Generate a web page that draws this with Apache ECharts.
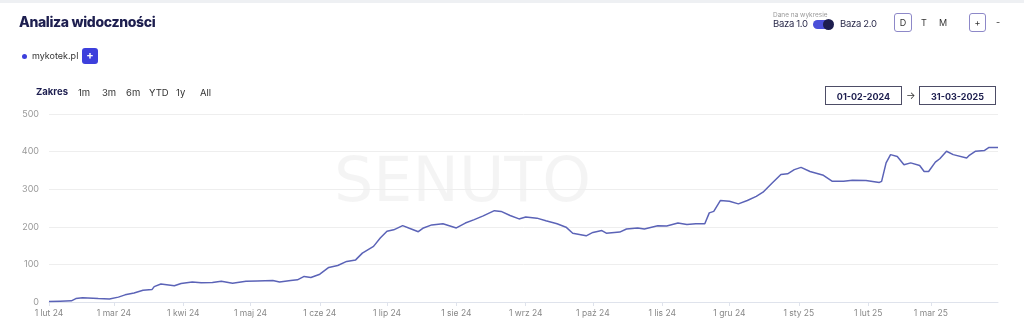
<!DOCTYPE html>
<html>
<head>
<meta charset="utf-8">
<script src="https://cdn.jsdelivr.net/npm/echarts@6/dist/echarts.min.js"></script>
<style>
  html,body{margin:0;padding:0;background:#fff;}
  body{width:1024px;height:329px;position:relative;overflow:hidden;font-family:'Inter','Lato',sans-serif;}
  #topbar{position:absolute;left:0;top:0;width:1024px;height:3px;background:#eef0f3;}
  #chart{position:absolute;left:0;top:0;width:1024px;height:329px;}
  .abs{position:absolute;white-space:nowrap;}
  #title{left:19px;top:13px;font-size:14px;font-weight:800;color:#1d1e4f;letter-spacing:-0.35px;}
  #addbtn{left:82px;top:48px;width:16px;height:16px;background:#3d3fdc;border-radius:3px;color:#fff;font-size:11px;font-weight:700;line-height:15px;text-align:center;}
  .rng{top:87px;font-size:9.5px;color:#333;}
  #zakres{left:36px;top:86px;font-size:9.5px;font-weight:700;color:#1d1e4f;}
  #dane{left:773px;top:11px;font-size:6.5px;color:#999;}
  .baza{top:18px;font-size:9.5px;color:#2a2a4a;letter-spacing:-0.3px;}
  #toggle{left:813px;top:20px;width:20px;height:9px;border-radius:5px;background:#4a4fd8;}
  #knob{left:823px;top:19px;width:11px;height:11px;border-radius:6px;background:#1d1e4f;}
  .box{border:1px solid #8d88c8;border-radius:3px;text-align:center;font-size:9px;color:#333;}
  .plain{font-size:9px;color:#333;}
  .date{top:86px;width:77px;height:19px;border:1px solid #4d4d66;font-size:9px;font-weight:700;color:#1d1e4f;text-align:center;line-height:19px;box-sizing:border-box;}
</style>
</head>
<body>
<div id="topbar"></div>
<div id="chart"></div>
<div class="abs" id="title">Analiza widoczności</div>
<div class="abs" id="addbtn">+</div>
<div class="abs" id="zakres">Zakres</div>
<div class="abs rng" style="left:78px">1m</div>
<div class="abs rng" style="left:102px">3m</div>
<div class="abs rng" style="left:126px">6m</div>
<div class="abs rng" style="left:149px">YTD</div>
<div class="abs rng" style="left:176px">1y</div>
<div class="abs rng" style="left:200px">All</div>
<div class="abs" id="dane">Dane na wykresie</div>
<div class="abs baza" style="left:773px">Baza 1.0</div>
<div class="abs" id="toggle"></div>
<div class="abs" id="knob"></div>
<div class="abs baza" style="left:840px">Baza 2.0</div>
<div class="abs box" style="left:894px;top:13px;width:16px;height:17px;line-height:17px;">D</div>
<div class="abs plain" style="left:921px;top:17px;">T</div>
<div class="abs plain" style="left:939px;top:17px;">M</div>
<div class="abs box" style="left:969px;top:13px;width:15px;height:17px;line-height:17px;">+</div>
<div class="abs plain" style="left:996px;top:16px;">-</div>
<div class="abs date" style="left:825px;">01-02-2024</div>
<div class="abs plain" style="left:906px;top:89px;font-size:10px;">→</div>
<div class="abs date" style="left:919px;">31-03-2025</div>
<script>
const seriesName = 'mykotek.pl';
const dates = [
 '2024-02-01','2024-02-06','2024-02-11','2024-02-13','2024-02-16','2024-02-23','2024-02-28',
 '2024-03-03','2024-03-06','2024-03-10','2024-03-14','2024-03-18','2024-03-19','2024-03-22','2024-03-28','2024-03-31',
 '2024-04-05','2024-04-09','2024-04-14','2024-04-18','2024-04-23','2024-04-29',
 '2024-05-04','2024-05-11','2024-05-14','2024-05-19','2024-05-22','2024-05-25','2024-05-28',
 '2024-06-01','2024-06-05','2024-06-09','2024-06-13','2024-06-17','2024-06-20','2024-06-25','2024-06-28',
 '2024-07-01','2024-07-04','2024-07-08','2024-07-11','2024-07-15','2024-07-17','2024-07-21','2024-07-26',
 '2024-08-01','2024-08-05','2024-08-09','2024-08-13','2024-08-18','2024-08-21','2024-08-25','2024-08-29',
 '2024-09-01','2024-09-06','2024-09-10','2024-09-15','2024-09-19','2024-09-22','2024-09-28',
 '2024-10-01','2024-10-05','2024-10-07','2024-10-13','2024-10-16','2024-10-21','2024-10-24','2024-10-30',
 '2024-11-03','2024-11-08','2024-11-12','2024-11-16','2024-11-20','2024-11-22','2024-11-24','2024-11-27',
 '2024-12-01','2024-12-05','2024-12-09','2024-12-13','2024-12-16','2024-12-20','2024-12-24','2024-12-27','2024-12-30',
 '2025-01-02','2025-01-06','2025-01-12','2025-01-16','2025-01-21','2025-01-25','2025-01-31',
 '2025-02-06','2025-02-07','2025-02-09','2025-02-11','2025-02-14','2025-02-17','2025-02-20','2025-02-24','2025-02-26','2025-02-28',
 '2025-03-03','2025-03-05','2025-03-08','2025-03-11','2025-03-17','2025-03-18','2025-03-21','2025-03-25','2025-03-27','2025-03-31'
];
const values = [
 1,2,3,9,11,9,8,
 13,19,24,31,33,41,48,43,49,
 53,51,52,55,50,55,
 56,57,53,57,59,68,65,
 74,92,97,108,112,130,148,170,
 188,192,203,196,187,196,205,208,
 197,210,219,229,243,241,230,221,
 226,223,216,208,199,183,176,
 185,190,183,186,194,197,194,203,
 202,210,206,208,208,237,241,270,
 268,261,270,281,292,316,339,341,352,
 358,347,337,321,321,324,323,
 318,321,370,392,387,365,370,363,347,347,
 372,381,401,392,383,389,401,403,411,411
];
const yTicks = [0,100,200,300,400,500];
const monthAbbr = ['sty','lut','mar','kwi','maj','cze','lip','sie','wrz','paź','lis','gru'];
const xStart = '2024-02-01';
const xEnd = '2025-03-31';
const watermark = 'SENUTO';

function ts(s){ const p = s.split('-').map(Number); return new Date(p[0], p[1]-1, p[2]).getTime(); }
const monthStarts = [];
for (let y = 2024, m = 1; y < 2025 || (y === 2025 && m <= 2); ) {
  monthStarts.push(new Date(y, m, 1).getTime());
  m++; if (m > 11) { m = 0; y++; }
}

const chart = echarts.init(document.getElementById('chart'), null, {renderer:'canvas'});
chart.setOption({
  animation:false,
  graphic:[{
    type:'text', left:334, top:154, silent:true, z:0,
    style:{text:watermark, fontSize:62, fontWeight:400, fill:'rgba(0,0,0,0.045)', fontFamily:'DejaVu Sans, sans-serif'}
  }],
  legend:{
    left:22, top:52, padding:0, icon:'circle', itemWidth:5, itemHeight:5, itemGap:6,
    textStyle:{fontSize:9, color:'#333', fontFamily:'Inter, sans-serif'},
    data:[seriesName]
  },
  grid:{left:49, right:26, top:114, bottom:27},
  xAxis:{
    type:'value', min:ts(xStart), max:ts(xEnd),
    axisLine:{lineStyle:{color:'#dfe3ec'}},
    axisTick:{show:true, customValues:monthStarts, length:4, lineStyle:{color:'#dfe3ec'}},
    axisLabel:{
      customValues:monthStarts, color:'#888', fontSize:8.5, fontFamily:'Inter, sans-serif', margin:7,
      formatter:(v)=>{ const d=new Date(v); return '1 ' + monthAbbr[d.getMonth()] + ' ' + String(d.getFullYear()).slice(2); }
    },
    splitLine:{show:false}
  },
  yAxis:{
    type:'value', min:0, max:500, interval:100,
    axisLine:{show:false}, axisTick:{show:false},
    axisLabel:{color:'#999', fontSize:9, fontFamily:'Inter, sans-serif', margin:10, padding:[0,0,7,0]},
    splitLine:{lineStyle:{color:'#eeeeee'}}
  },
  series:[{
    name:seriesName, type:'line', showSymbol:false, symbol:'circle',
    itemStyle:{color:'#3d3fdc'},
    lineStyle:{color:'#5b63b7', width:1.5},
    data: dates.map((d,i)=>[ts(d), values[i]])
  }]
});
</script>
</body>
</html>
